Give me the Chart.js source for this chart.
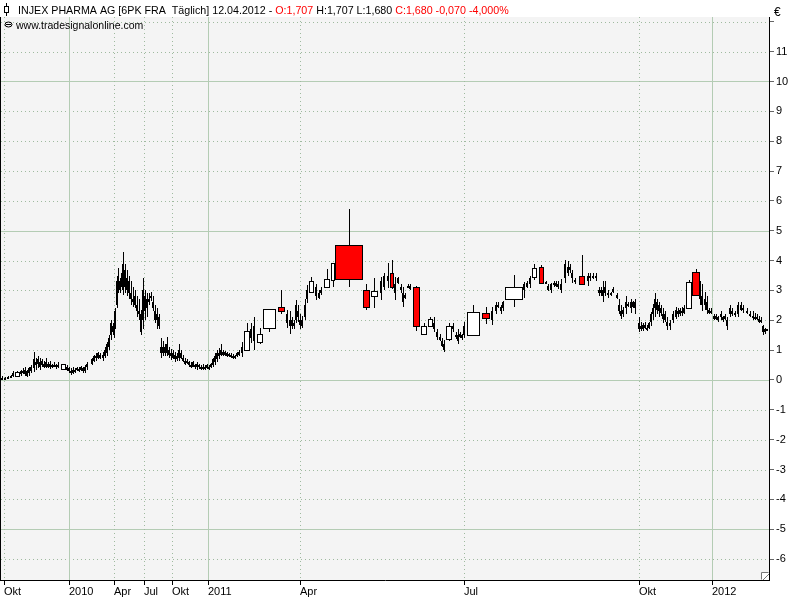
<!DOCTYPE html>
<html lang="de">
<head>
<meta charset="UTF-8">
<title>INJEX PHARMA AG | Täglich</title>
<script src="https://cdn.jsdelivr.net/npm/chart.js"></script>
<style>
  html, body { margin: 0; padding: 0; background: #fff; }
</style>
</head>
<body>
<canvas id="kurs" width="800" height="600"></canvas>
<script>
// Achse: Balken-Positionen (Slots) und Beschriftungen
var xTickSlots = [4, 69, 114, 144, 172, 208, 300, 464, 639, 712];
var xTickLabels = ['Okt', '2010', 'Apr', 'Jul', 'Okt', '2011', 'Apr', 'Jul', 'Okt', '2012'];
var yTicks = [-6, -5, -4, -3, -2, -1, 0, 1, 2, 3, 4, 5, 6, 7, 8, 9, 10, 11, 12];

// schmale Kerzen (ein Handelstag)
var nSlot = [2, 5, 8, 11, 13, 21, 23, 25, 27, 29, 31, 34, 36, 38, 40, 42, 44, 46, 48, 50, 52, 54, 56, 58,
  67, 69, 71, 73, 75, 77, 79, 81, 83, 85, 87, 92, 94, 96, 98, 100, 103, 105, 107, 109, 111, 113, 114, 115,
  117, 118, 120, 122, 123, 125, 127, 129, 131, 133, 135, 137, 139, 141, 143, 145, 147, 149, 151, 153, 155,
  157, 159, 161, 163, 165, 167, 169, 171, 173, 175, 177, 179, 181, 183, 185, 187, 189, 191, 193, 195, 197,
  199, 201, 203, 205, 207, 209, 211, 213, 215, 217, 219, 221, 223, 225, 227, 229, 231, 233, 235, 237, 239,
  242, 251, 254, 287, 290, 292, 294, 296, 298, 300, 302, 305, 307, 316, 319, 321, 381, 384, 388, 395, 398,
  401, 403, 405, 408, 410, 434, 437, 440, 442, 444, 453, 456, 458, 460, 462, 464, 492, 496, 498, 501, 503,
  524, 527, 530, 546, 548, 551, 554, 556, 558, 561, 565, 568, 570, 572, 575, 588, 590, 593, 596, 599, 601,
  603, 605, 608, 611, 613, 617, 619, 621, 623, 626, 628, 631, 633, 635, 639, 641, 643, 645, 647, 649, 651,
  653, 655, 657, 659, 661, 663, 665, 667, 670, 673, 676, 678, 680, 682, 684, 700, 702, 705, 707, 709, 711,
  714, 716, 718, 721, 723, 725, 727, 730, 732, 735, 738, 741, 743, 747, 750, 753, 755, 757, 759, 761, 763,
  765, 767];
var nOpen = [.05, .05, .06, .10, .15, .20, .30, .20, .30, .25, .30, .40, .50, .55, .60, .50, .55, .45, .55, .45, .50, .45, .50, .45,
  .45, .40, .30, .25, .30, .35, .38, .35, .40, .30, .45, .55, .65, .80, .75, .85, .75, .80, .90, 1.10, 1.50, 1.80, 1.50, 1.80,
  2.50, 3.20, 3.30, 3.10, 3.50, 3.70, 3.00, 3.30, 2.90, 2.70, 2.80, 2.50, 2.30, 2.20, 2.00, 2.80, 2.40, 2.70, 2.80, 2.60, 2.30,
  2.00, 2.10, 1.10, .90, 1.10, .90, 1.00, .80, .90, .70, .80, .75, .90, .75, .65, .60, .60, .50, .45, .50, .45,
  .50, .40, .45, .38, .40, .45, .42, .50, .60, .70, .90, .85, .95, .85, .90, .82, .85, .80, .78, .80, .85,
  .90, 1.40, 1.30, 2.20, 2.00, 1.80, 1.90, 2.00, 2.30, 2.00, 1.80, 2.10, 2.70, 2.80, 2.90, 2.90, 2.90, 3.10, 3.50, 3.20, 3.40,
  3.10, 2.90, 2.75, 3.10, 3.15, 1.90, 1.60, 1.45, 1.30, 1.20, 1.70, 1.50, 1.50, 1.45, 1.50, 1.50, 2.00, 2.30, 2.50, 2.30, 2.40,
  3.00, 3.10, 3.20, 3.28, 3.15, 3.00, 3.20, 3.15, 3.20, 3.20, 3.40, 3.80, 3.70, 3.60, 3.30, 3.30, 3.40, 3.50, 3.50, 3.00, 2.90,
  3.00, 3.10, 2.90, 2.85, 2.95, 2.85, 2.50, 2.30, 2.20, 2.40, 2.55, 2.40, 2.60, 2.40, 1.90, 1.80, 1.70, 1.85, 1.75, 1.75, 1.95,
  2.20, 2.40, 2.60, 2.30, 2.40, 2.20, 2.00, 1.95, 1.80, 2.00, 2.10, 2.30, 2.20, 2.30, 2.25, 3.00, 2.80, 2.50, 2.60, 2.35, 2.25,
  2.15, 2.05, 2.10, 2.10, 2.00, 2.05, 2.00, 2.20, 2.30, 2.20, 2.20, 2.50, 2.35, 2.30, 2.20, 2.15, 2.10, 2.05, 2.05, 2.00, 1.80,
  1.60, 1.707];
var nHigh = [.12, .10, .12, .18, .30, .35, .40, .45, .35, .45, .50, .94, .75, .80, .73, .70, .65, .75, .60, .65, .55, .60, .55, .60,
  .50, .45, .40, .45, .40, .45, .42, .48, .42, .50, .60, .75, .85, .90, .95, .90, .95, 1.10, 1.27, 1.50, 2.00, 1.90, 1.80, 2.40,
  3.50, 3.76, 3.40, 3.80, 4.30, 3.90, 3.70, 3.50, 3.30, 3.10, 3.00, 2.80, 2.70, 2.35, 3.42, 3.00, 2.90, 2.90, 2.95, 2.80, 2.50,
  2.40, 2.20, 1.40, 1.30, 1.20, 1.44, 1.10, 1.05, 1.00, .95, .90, 1.20, 1.00, .85, .75, .70, .65, .60, .65, .55, .60,
  .55, .50, .52, .50, .55, .50, .58, .75, .90, 1.00, 1.07, 1.20, 1.00, .98, .95, .92, .90, .88, .85, .95, 1.00,
  1.27, 1.90, 2.10, 2.35, 2.30, 2.10, 2.00, 2.68, 2.50, 2.20, 2.15, 2.70, 3.19, 3.23, 3.00, 3.10, 3.46, 3.60, 3.93, 3.46, 3.46,
  3.20, 3.12, 2.90, 3.20, 3.20, 2.10, 1.72, 1.55, 1.40, 1.35, 1.90, 1.60, 1.70, 1.60, 1.55, 1.95, 2.45, 2.60, 2.60, 2.50, 2.65,
  3.29, 3.30, 3.47, 3.30, 3.20, 3.25, 3.30, 3.30, 3.30, 3.37, 4.03, 3.97, 3.90, 3.70, 3.40, 3.58, 3.60, 3.60, 3.60, 3.12, 3.10,
  3.30, 3.30, 3.00, 2.95, 3.10, 2.90, 2.70, 2.50, 2.45, 2.80, 2.60, 2.70, 2.65, 2.70, 2.10, 1.95, 1.90, 1.95, 1.85, 1.95, 2.28,
  2.55, 2.92, 2.70, 2.60, 2.50, 2.40, 2.30, 2.10, 2.00, 2.30, 2.45, 2.40, 2.40, 2.45, 2.50, 3.30, 3.20, 2.95, 2.80, 2.40, 2.40,
  2.20, 2.20, 2.15, 2.30, 2.15, 2.20, 2.10, 2.50, 2.40, 2.30, 2.60, 2.60, 2.50, 2.40, 2.30, 2.30, 2.25, 2.20, 2.15, 2.10, 1.85,
  1.75, 1.707];
var nLow = [.02, .02, .04, .07, .10, .15, .20, .15, .10, .15, .25, .27, .35, .40, .35, .45, .40, .40, .40, .38, .40, .42, .38, .40,
  .30, .25, .18, .20, .25, .30, .28, .30, .25, .25, .35, .50, .60, .65, .70, .70, .65, .75, .80, 1.00, 1.35, 1.50, 1.40, 1.70,
  2.40, 2.90, 2.90, 3.00, 2.85, 2.90, 2.80, 2.70, 2.50, 2.45, 2.40, 2.10, 2.00, 1.50, 1.70, 2.00, 2.10, 2.50, 2.65, 2.30, 1.90,
  1.70, 1.70, .74, .80, .80, .80, .75, .67, .70, .60, .65, .65, .70, .60, .50, .55, .45, .40, .42, .38, .35,
  .38, .33, .35, .33, .38, .35, .40, .45, .50, .60, .70, .80, .80, .80, .78, .78, .75, .72, .72, .78, .80,
  .77, 1.24, 1.00, 1.74, 1.55, 1.70, 1.70, 1.90, 1.95, 1.70, 1.75, 2.00, 2.58, 2.68, 2.70, 2.85, 2.68, 3.00, 3.09, 2.68, 3.20,
  2.90, 2.45, 2.70, 3.07, 3.00, 1.60, 1.34, 1.30, 1.10, .94, 1.60, 1.38, 1.20, 1.40, 1.35, 1.40, 1.85, 2.20, 2.40, 2.20, 2.30,
  2.75, 3.08, 3.08, 3.20, 2.97, 2.90, 3.10, 3.10, 3.05, 2.90, 3.26, 3.50, 3.60, 3.26, 3.20, 3.16, 3.30, 3.38, 3.30, 2.80, 2.80,
  2.60, 2.80, 2.75, 2.80, 2.90, 2.70, 2.20, 2.05, 2.10, 2.20, 2.45, 2.26, 2.40, 2.20, 1.60, 1.63, 1.65, 1.70, 1.63, 1.70, 1.80,
  2.00, 2.10, 2.20, 2.10, 2.15, 1.90, 1.95, 1.68, 1.68, 1.90, 2.05, 2.10, 2.15, 2.15, 2.20, 2.50, 2.30, 2.35, 2.20, 2.20, 2.20,
  2.00, 2.00, 1.95, 2.00, 1.95, 2.00, 1.68, 2.10, 2.15, 2.10, 2.10, 2.30, 2.25, 2.20, 2.10, 2.00, 2.00, 2.00, 1.90, 1.90, 1.50,
  1.55, 1.68];
var nClose = [.08, .07, .09, .14, .25, .30, .25, .35, .15, .40, .45, .70, .60, .70, .45, .65, .45, .60, .45, .55, .45, .50, .42, .50,
  .35, .30, .25, .35, .35, .40, .33, .42, .30, .45, .55, .70, .80, .75, .90, .75, .85, 1.00, 1.20, 1.40, 1.90, 1.60, 1.70, 2.30,
  3.30, 3.50, 3.00, 3.60, 3.90, 3.10, 3.40, 2.90, 2.70, 2.60, 2.50, 2.30, 2.20, 1.60, 3.00, 2.30, 2.70, 2.60, 2.75, 2.40, 2.00,
  2.20, 1.80, .90, 1.10, .90, 1.20, .85, .90, .75, .85, .70, 1.00, .75, .65, .55, .65, .50, .45, .60, .42, .55,
  .42, .45, .38, .45, .50, .40, .52, .70, .80, .90, .80, 1.00, .85, .95, .82, .88, .80, .78, .80, .90, .95,
  1.10, 1.70, 1.80, 1.90, 1.80, 2.00, 1.80, 2.50, 2.10, 1.85, 2.00, 2.50, 3.00, 3.10, 2.75, 3.00, 3.30, 3.50, 3.30, 2.90, 3.25,
  3.00, 2.60, 2.85, 3.15, 3.05, 1.70, 1.45, 1.35, 1.15, 1.00, 1.80, 1.45, 1.30, 1.55, 1.40, 1.80, 2.30, 2.50, 2.45, 2.45, 2.60,
  3.20, 3.25, 3.40, 3.22, 3.00, 3.20, 3.25, 3.25, 3.10, 3.00, 3.90, 3.60, 3.80, 3.40, 3.35, 3.50, 3.50, 3.45, 3.40, 2.90, 3.00,
  2.80, 2.90, 2.85, 2.90, 3.05, 2.75, 2.30, 2.15, 2.35, 2.60, 2.50, 2.60, 2.45, 2.60, 1.70, 1.70, 1.85, 1.75, 1.70, 1.90, 2.20,
  2.40, 2.70, 2.35, 2.50, 2.25, 2.05, 2.20, 1.80, 1.90, 2.20, 2.35, 2.20, 2.35, 2.25, 2.40, 2.70, 2.50, 2.70, 2.35, 2.25, 2.30,
  2.05, 2.15, 2.00, 2.20, 2.10, 2.15, 1.80, 2.40, 2.20, 2.25, 2.50, 2.35, 2.40, 2.25, 2.15, 2.10, 2.05, 2.10, 1.95, 1.95, 1.60,
  1.70, 1.68];

// breite Kerzen (Zeitraum von Slot bis Slot)
var wStart = [15, 61, 244, 257, 263, 278, 309, 324, 331, 335, 363, 371, 390, 413, 421, 428, 446, 467, 482, 505, 532, 539, 579, 686, 692];
var wEnd   = [19, 65, 249, 262, 275, 284, 313, 329, 334, 362, 369, 377, 393, 419, 426, 432, 451, 479, 489, 522, 536, 543, 584, 691, 699];
var wOpen  = [.14, .36, 1.00, 1.27, 1.74, 2.45, 2.95, 3.12, 3.36, 4.53, 3.02, 2.82, 3.59, 3.12, 1.54, 1.81, 1.38, 1.51, 2.25, 2.72, 3.46, 3.79, 3.49, 2.42, 3.62];
var wHigh  = [.30, .55, 1.90, 1.75, 2.38, 3.02, 3.45, 3.72, 3.93, 5.74, 3.20, 3.40, 4.03, 3.15, 1.90, 2.10, 1.90, 2.52, 2.46, 3.52, 3.90, 3.86, 4.19, 3.35, 3.72];
var wLow   = [.12, .34, 1.00, 1.20, 1.60, 2.20, 2.90, 3.10, 3.12, 3.12, 2.34, 2.40, 3.05, 1.65, 1.54, 1.80, 1.30, 1.51, 1.86, 2.45, 3.35, 3.20, 3.20, 2.40, 2.85];
var wClose = [.28, .53, 1.64, 1.54, 2.38, 2.30, 3.32, 3.39, 3.93, 3.39, 2.45, 2.99, 3.12, 1.82, 1.81, 2.05, 1.81, 2.28, 2.08, 3.12, 3.76, 3.26, 3.22, 3.29, 2.85];

var schrift = '"Liberation Sans", Arial, sans-serif';
Chart.defaults.font.family = schrift;
Chart.defaults.font.size = 11;
Chart.defaults.color = '#000';

// Hintergrund und Gitter
const gitter = {
  id: 'gitter',
  beforeDraw(chart) {
    const ctx = chart.ctx, a = chart.chartArea;
    const xs = chart.scales.x, ys = chart.scales.y;
    ctx.save();
    ctx.fillStyle = '#ffffff';
    ctx.fillRect(0, 0, chart.width, chart.height);
    ctx.fillStyle = '#f4f4f4';
    ctx.fillRect(a.left, a.top, a.right - a.left, a.bottom - a.top);
    ctx.lineWidth = 1;
    yTicks.forEach(function (v) {
      const y = Math.round(ys.getPixelForValue(v)) + 0.5;
      ctx.beginPath();
      if (v % 5 === 0) { ctx.setLineDash([]); ctx.strokeStyle = '#b4ccb4'; }
      else { ctx.setLineDash([1, 3]); ctx.strokeStyle = '#9fba9f'; }
      ctx.moveTo(a.left, y); ctx.lineTo(a.right, y); ctx.stroke();
    });
    xTickSlots.forEach(function (v, i) {
      const x = Math.round(xs.getPixelForValue(v)) + 0.5;
      ctx.beginPath();
      if (xTickLabels[i].length === 4) { ctx.setLineDash([]); ctx.strokeStyle = '#b4ccb4'; }
      else { ctx.setLineDash([1, 3]); ctx.strokeStyle = '#9fba9f'; }
      ctx.moveTo(x, a.top); ctx.lineTo(x, a.bottom); ctx.stroke();
    });
    ctx.restore();
  }
};

// Kerzen zeichnen
const kerzen = {
  id: 'kerzen',
  afterDatasetsDraw(chart) {
    const ctx = chart.ctx, a = chart.chartArea;
    const xs = chart.scales.x, ys = chart.scales.y;
    ctx.save();
    ctx.beginPath();
    ctx.rect(a.left, a.top, a.right - a.left, a.bottom - a.top);
    ctx.clip();
    ctx.lineWidth = 1;
    ctx.strokeStyle = '#000';
    ctx.fillStyle = '#000';
    for (let i = 0; i < nSlot.length; i++) {
      const x = Math.round(xs.getPixelForValue(nSlot[i]));
      const yh = Math.round(ys.getPixelForValue(nHigh[i])), yl = Math.round(ys.getPixelForValue(nLow[i]));
      ctx.fillRect(x, yh, 1, Math.max(1, yl - yh));
      const yo = ys.getPixelForValue(nOpen[i]), yc = ys.getPixelForValue(nClose[i]);
      const top = Math.round(Math.min(yo, yc)), bot = Math.round(Math.max(yo, yc));
      ctx.fillRect(x - 1, top, 2, Math.max(2, bot - top));
    }
    for (let i = 0; i < wStart.length; i++) {
      const x0 = Math.round(xs.getPixelForValue(wStart[i]));
      const x1 = Math.round(xs.getPixelForValue(wEnd[i]));
      const xm = Math.round((x0 + x1) / 2) + 0.5;
      const yh = Math.round(ys.getPixelForValue(wHigh[i]));
      const yl = Math.round(ys.getPixelForValue(wLow[i]));
      const yo = Math.round(ys.getPixelForValue(wOpen[i]));
      const yc = Math.round(ys.getPixelForValue(wClose[i]));
      ctx.beginPath();
      ctx.moveTo(xm, yh); ctx.lineTo(xm, yl); ctx.stroke();
      const top = Math.min(yo, yc), h = Math.max(1, Math.abs(yo - yc));
      ctx.fillStyle = wClose[i] < wOpen[i] ? '#ff0000' : '#ffffff';
      ctx.fillRect(x0 + 0.5, top + 0.5, x1 - x0, h);
      ctx.strokeRect(x0 + 0.5, top + 0.5, x1 - x0, h);
    }
    ctx.restore();
  },
  afterDraw(chart) {
    const ctx = chart.ctx, a = chart.chartArea;
    ctx.save();
    // linker Rand
    ctx.fillStyle = '#000';
    ctx.fillRect(0, a.top, 1, a.bottom - a.top + 1);
    // Kopfzeile
    const teile = [
      ['INJEX PHARMA AG [6PK FRA  Täglich] 12.04.2012 - ', '#000'],
      ['O:1,707 ', '#ff0000'],
      ['H:1,707 L:1,680 ', '#000'],
      ['C:1,680 -0,070 -4,000%', '#ff0000']
    ];
    ctx.font = '10.7px ' + schrift;
    ctx.textBaseline = 'alphabetic';
    let x = 18;
    teile.forEach(function (t) {
      ctx.fillStyle = t[1];
      ctx.fillText(t[0], x, 14);
      x += ctx.measureText(t[0]).width;
    });
    // Symbol vor dem Titel
    ctx.strokeStyle = '#000';
    ctx.lineWidth = 1;
    ctx.beginPath(); ctx.moveTo(6.5, 3); ctx.lineTo(6.5, 16); ctx.stroke();
    ctx.fillStyle = '#fff';
    ctx.fillRect(4.5, 6.5, 4, 6);
    ctx.strokeRect(4.5, 6.5, 4, 6);
    // Quelle
    ctx.fillStyle = '#000';
    ctx.font = '10.5px ' + schrift;
    ctx.fillText('www.tradesignalonline.com', 16, 29);
    ctx.beginPath(); ctx.ellipse(8.5, 24.5, 3.5, 2.5, 0, 0, Math.PI * 2); ctx.stroke();
    ctx.beginPath(); ctx.moveTo(6, 24.5); ctx.lineTo(11, 24.5); ctx.stroke();
    // Euro-Zeichen
    ctx.font = '12px ' + schrift;
    ctx.fillText('€', 774, 16);
    // Eckensymbol
    ctx.fillStyle = '#fff';
    ctx.fillRect(a.right - 8, a.bottom - 8, 8, 8);
    ctx.strokeStyle = '#777';
    ctx.beginPath();
    ctx.moveTo(a.right - 7.5, a.bottom - 0.5); ctx.lineTo(a.right - 7.5, a.bottom - 7.5); ctx.lineTo(a.right - 0.5, a.bottom - 7.5);
    ctx.moveTo(a.right - 6, a.bottom); ctx.lineTo(a.right, a.bottom - 6);
    ctx.stroke();
    ctx.restore();
  }
};

new Chart(document.getElementById('kurs'), {
  type: 'scatter',
  data: {
    datasets: [{
      data: nSlot.map(function (s, i) { return { x: s, y: nClose[i] }; }),
      pointRadius: 0,
      showLine: false
    }]
  },
  options: {
    responsive: false,
    animation: false,
    events: [],
    layout: { padding: { top: 17, left: 1, right: 0, bottom: 0 } },
    plugins: { legend: { display: false }, tooltip: { enabled: false } },
    scales: {
      x: {
        type: 'linear',
        position: 'bottom',
        min: 1,
        max: 769,
        afterBuildTicks: function (scale) {
          scale.ticks = xTickSlots.map(function (v) { return { value: v }; });
        },
        afterFit: function (scale) { scale.height = 20; },
        ticks: {
          autoSkip: false,
          maxRotation: 0,
          align: 'start',
          padding: 0,
          font: { size: 11 },
          callback: function (v) { return xTickLabels[xTickSlots.indexOf(v)]; }
        },
        grid: { drawOnChartArea: false, drawTicks: true, tickLength: 5, tickColor: '#000' },
        border: { color: '#000' }
      },
      y: {
        type: 'linear',
        position: 'right',
        min: -6.70,
        max: 12.16,
        afterBuildTicks: function (scale) {
          scale.ticks = yTicks.map(function (v) { return { value: v }; });
        },
        afterFit: function (scale) { scale.width = 31; },
        ticks: {
          padding: 2,
          font: { size: 11 },
          callback: function (v) { return v === 12 ? '' : String(v); }
        },
        grid: { drawOnChartArea: false, drawTicks: true, tickLength: 5, tickColor: '#666' },
        border: { color: '#000' }
      }
    }
  },
  plugins: [gitter, kerzen]
});
</script>
</body>
</html>
